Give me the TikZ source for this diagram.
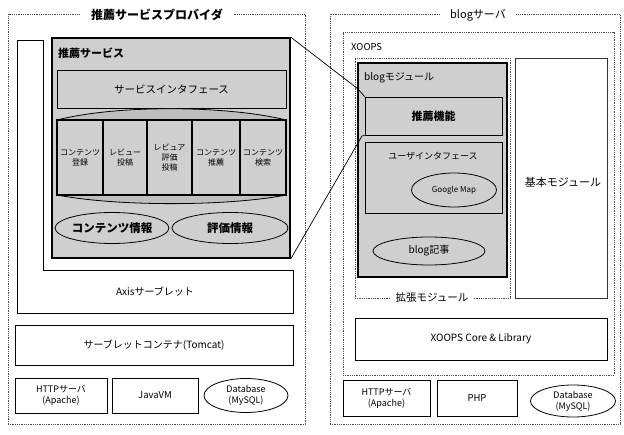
\documentclass[tikz,border=0pt]{standalone}
\usepackage{fontspec}
\setmainfont{Noto Sans CJK JP}
\usetikzlibrary{shapes.geometric}
\tikzset{
  frame/.style={draw=black!70, densely dotted, line width=0.8pt},
  plain/.style={draw, line width=0.7pt, inner sep=0pt, align=center},
  gbox/.style={plain, fill=gray!38},
  thick box/.style={draw, line width=1.6pt, fill=gray!38, inner sep=0pt},
  cell/.style={draw, line width=1.3pt, fill=gray!38, inner sep=0pt, align=center,
    font=\fontsize{8}{10}\selectfont},
  oval/.style={ellipse, draw, line width=0.8pt, fill=gray!38, inner sep=0pt},
  title/.style={fill=white, inner xsep=10pt, inner ysep=3pt, font=\fontsize{12}{14}\selectfont\bfseries},
  txt/.style={inner sep=0pt, font=\fontsize{10}{12}\selectfont},
  conn/.style={draw, line width=0.7pt}
}
\begin{document}
\begin{tikzpicture}[x=1pt,y=-1pt]
\useasboundingbox (0,0) rectangle (624,435);
% ---------- left side ----------
\node[frame, minimum width=297pt, minimum height=410pt, inner sep=0pt] (lframe) at (156.5,219) {};
\node[title] (ltitle) at (157,15) {推薦サービスプロバイダ};

\draw[line width=0.7pt] (17,40) -- (43,40) -- (43,270) -- (293,270) -- (293,313) -- (17,313) -- cycle;
\node[txt] (axis) at (155,292) {Axisサーブレット};

\node[thick box, minimum width=238pt, minimum height=220pt] (rsvc) at (171,148) {};
\node[txt, anchor=west, font=\fontsize{11}{13}\selectfont\bfseries] (rsvclbl) at (58,53) {推薦サービス};
\node[gbox, minimum width=229pt, minimum height=38pt, font=\fontsize{10.5}{12}\selectfont] (sif) at (171.5,89) {サービスインタフェース};

\fill[gray!50] (57,120) .. controls (120,104) and (230,106) .. (286,120) -- cycle;
\draw[line width=0.8pt] (57,120) .. controls (120,104) and (230,106) .. (286,120);
\fill[gray!50] (57,195) .. controls (120,207) and (230,206) .. (286,195) -- cycle;
\draw[line width=0.8pt] (57,195) .. controls (120,207) and (230,206) .. (286,195);

\node[cell, minimum width=46pt, minimum height=75pt] (c1) at (80,157.5) {コンテンツ\\登録};
\node[cell, minimum width=44pt, minimum height=75pt] (c2) at (125,157.5) {レビュー\\投稿};
\node[cell, minimum width=45pt, minimum height=75pt] (c3) at (169.5,157.5) {レビュア\\評価\\投稿};
\node[cell, minimum width=48pt, minimum height=75pt] (c4) at (216,157.5) {コンテンツ\\推薦};
\node[cell, minimum width=46pt, minimum height=75pt] (c5) at (263,157.5) {コンテンツ\\検索};

\node[oval, minimum width=112pt, minimum height=31pt, font=\fontsize{11.5}{13}\selectfont\bfseries] (cinfo) at (112,228) {コンテンツ情報};
\node[oval, minimum width=116pt, minimum height=31pt, font=\fontsize{11.5}{13}\selectfont\bfseries] (einfo) at (230,228) {評価情報};

\node[plain, minimum width=278pt, minimum height=40pt, font=\fontsize{10}{12}\selectfont] (tomcat) at (154,345) {サーブレットコンテナ(Tomcat)};
\node[plain, minimum width=92pt, minimum height=35pt, font=\fontsize{9}{11}\selectfont] (lhttp) at (61,395.5) {HTTPサーバ\\(Apache)};
\node[plain, minimum width=86pt, minimum height=35pt, font=\fontsize{9.5}{11}\selectfont] (jvm) at (155,395.5) {JavaVM};
\node[oval, fill=white, minimum width=84pt, minimum height=34pt, font=\fontsize{9}{11}\selectfont, align=center] (ldb) at (246,395.5) {Database\\(MySQL)};

% ---------- right side ----------
\node[frame, minimum width=290pt, minimum height=410pt, inner sep=0pt] (rframe) at (475,219) {};
\node[title, font=\fontsize{11}{13}\selectfont] (rtitle) at (478,15) {blogサーバ};

\node[frame, minimum width=271pt, minimum height=343pt, inner sep=0pt] (xoops) at (478.5,203.5) {};
\node[txt, anchor=west, font=\fontsize{9.5}{11}\selectfont] (xoopslbl) at (351,47) {XOOPS};

\node[frame, minimum width=155pt, minimum height=240pt, inner sep=0pt] (ext) at (432.5,178) {};
\node[thick box, minimum width=149pt, minimum height=214pt] (blogmod) at (432.5,170) {};
\node[txt, anchor=west] (blogmodlbl) at (364,78) {blogモジュール};
\node[gbox, minimum width=137pt, minimum height=38pt, font=\fontsize{11}{13}\selectfont\bfseries] (rfunc) at (433.5,116) {推薦機能};
\node[gbox, minimum width=137pt, minimum height=71pt] (uif) at (433.5,177.5) {};
\node[txt, font=\fontsize{9}{11}\selectfont] (uiflbl) at (433,156) {ユーザインタフェース};
\node[oval, minimum width=85pt, minimum height=34pt, font=\fontsize{8}{10}\selectfont] (gmap) at (454,190) {Google Map};
\node[oval, minimum width=112pt, minimum height=28pt, font=\fontsize{10}{12}\selectfont] (blogart) at (429,251) {blog記事};
\node[title, font=\fontsize{10.5}{12}\selectfont, inner xsep=6pt, inner ysep=2pt] (extlbl) at (432,298) {拡張モジュール};

\node[plain, draw=black!80, minimum width=92pt, minimum height=240pt] (base) at (561,178) {};
\node[txt, font=\fontsize{11}{13}\selectfont] (baselbl) at (563,182) {基本モジュール};

\node[plain, minimum width=252pt, minimum height=42pt, font=\fontsize{10}{12}\selectfont] (core) at (481,339) {XOOPS Core \& Library};
\node[plain, minimum width=87pt, minimum height=36pt, font=\fontsize{9}{11}\selectfont] (rhttp) at (386.5,398) {HTTPサーバ\\(Apache)};
\node[plain, minimum width=80pt, minimum height=36pt, font=\fontsize{9.5}{11}\selectfont] (php) at (477,398) {PHP};
\node[oval, fill=white, minimum width=85pt, minimum height=32pt, font=\fontsize{9}{11}\selectfont, align=center] (rdb) at (573,401) {Database\\(MySQL)};

% ---------- connectors ----------
\coordinate (k1) at (358,89);
\coordinate (k2) at (362,136);
\draw[conn] (rsvc.north east) -- (k1) -- (rfunc.north west);
\draw[conn] (rsvc.south east) -- (k2) -- (rfunc.south west);
\end{tikzpicture}
\end{document}
